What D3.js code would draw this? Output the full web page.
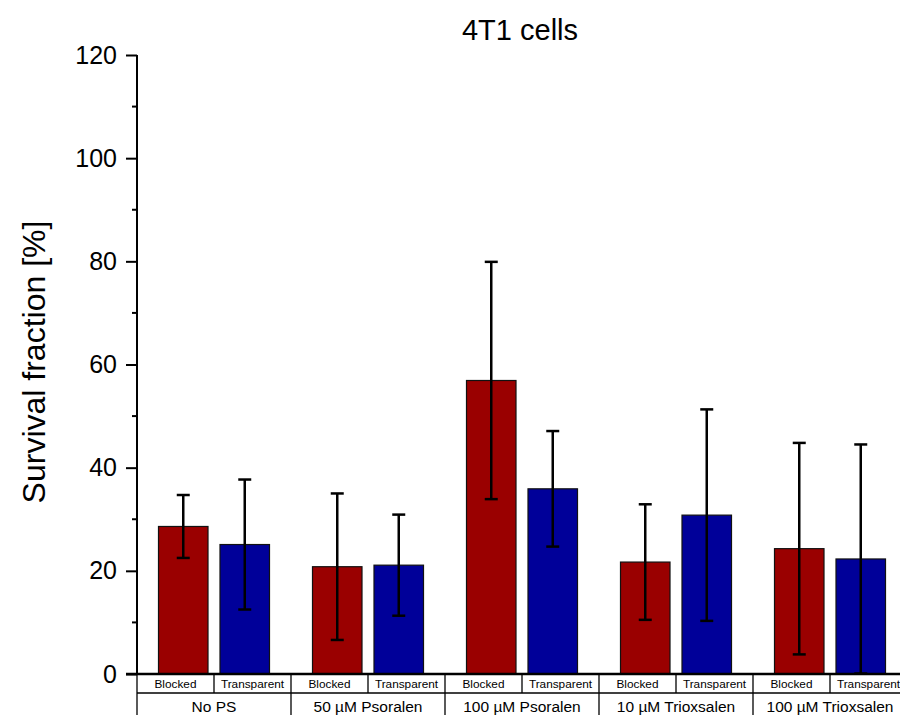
<!DOCTYPE html>
<html>
<head>
<meta charset="utf-8">
<script src="https://cdn.jsdelivr.net/npm/d3@7/dist/d3.min.js"></script>
<style>
  body { margin: 0; background: #fff; }
  text { font-family: "Liberation Sans", Arial, sans-serif; fill: #000; }
</style>
</head>
<body>
<div id="chart"></div>
<script>
const groups = ["No PS", "50 µM Psoralen", "100 µM Psoralen", "10 µM Trioxsalen", "100 µM Trioxsalen"];
const subgroups = ["Blocked", "Transparent"];
const blockedMean = [28.6, 20.8, 56.9, 21.7, 24.3];
const blockedErr = [6.1, 14.2, 23.0, 11.2, 20.5];
const transparentMean = [25.1, 21.1, 35.9, 30.8, 22.3];
const transparentErr = [12.6, 9.8, 11.2, 20.5, 22.2];
const yTicks = [0, 20, 40, 60, 80, 100, 120];

const width = 900, height = 715;
const plotLeft = 137, plotBottom = 674, plotTop = 55;
const groupW = 154;

const svg = d3.select("#chart").append("svg")
    .attr("width", width)
    .attr("height", height);

const x0 = d3.scaleBand().domain(groups).range([plotLeft, plotLeft + groupW * groups.length]);
const x1 = d3.scaleBand().domain(subgroups)
    .range([groupW / 2 - 55.5, groupW / 2 + 55.5])
    .paddingInner(0.195);
const xCell = d3.scaleBand().domain(subgroups).range([0, groupW]);
const y = d3.scaleLinear().domain([0, 120]).range([plotBottom, plotTop]);
const color = d3.scaleOrdinal().domain(subgroups).range(["#9a0000", "#000099"]);

const data = [];
groups.forEach((g, i) => {
    data.push({ group: g, sub: "Blocked", v: blockedMean[i], e: blockedErr[i] });
    data.push({ group: g, sub: "Transparent", v: transparentMean[i], e: transparentErr[i] });
});

// bars
svg.selectAll(".bar")
    .data(data)
    .enter()
    .append("rect")
    .attr("class", "bar")
    .attr("x", d => x0(d.group) + x1(d.sub))
    .attr("y", d => y(d.v))
    .attr("width", x1.bandwidth())
    .attr("height", d => y(0) - y(d.v))
    .attr("fill", d => color(d.sub))
    .attr("stroke", "#111")
    .attr("stroke-width", 1.2);

// error bars
const eb = svg.selectAll(".err")
    .data(data)
    .enter()
    .append("g")
    .attr("class", "err")
    .attr("stroke", "#000")
    .attr("stroke-width", 2.5);
const cx = d => x0(d.group) + x1(d.sub) + x1.bandwidth() / 2;
eb.append("line")
    .attr("x1", cx).attr("x2", cx)
    .attr("y1", d => y(d.v + d.e))
    .attr("y2", d => y(Math.max(0, d.v - d.e)));
eb.append("line")
    .attr("x1", d => cx(d) - 6.5).attr("x2", d => cx(d) + 6.5)
    .attr("y1", d => y(d.v + d.e)).attr("y2", d => y(d.v + d.e));
eb.append("line")
    .attr("x1", d => cx(d) - 6.5).attr("x2", d => cx(d) + 6.5)
    .attr("y1", d => y(Math.max(0, d.v - d.e))).attr("y2", d => y(Math.max(0, d.v - d.e)));

// y axis
const yAxis = svg.append("g")
    .attr("transform", `translate(${plotLeft},0)`)
    .call(d3.axisLeft(y).tickValues(yTicks).tickSize(11).tickPadding(9));
yAxis.select(".domain").attr("stroke-width", 2).attr("d", `M0,${plotTop}V${plotBottom}`);
yAxis.selectAll(".tick line").attr("stroke-width", 2);
yAxis.selectAll(".tick text").attr("font-size", 25).style("font-family", '"Liberation Sans", Arial, sans-serif');

// minor ticks
svg.append("g")
    .selectAll("line")
    .data(d3.range(10, 120, 20))
    .enter()
    .append("line")
    .attr("x1", plotLeft - 5).attr("x2", plotLeft)
    .attr("y1", d => y(d)).attr("y2", d => y(d))
    .attr("stroke", "#000").attr("stroke-width", 2);

// x axis baseline
svg.append("line")
    .attr("x1", plotLeft - 11).attr("x2", width)
    .attr("y1", plotBottom).attr("y2", plotBottom)
    .attr("stroke", "#000").attr("stroke-width", 2.5);

// category table under the axis
const rowMid = 693;
const table = svg.append("g").attr("stroke", "#000").attr("stroke-width", 1.3);
table.append("line")
    .attr("x1", plotLeft).attr("x2", width)
    .attr("y1", rowMid).attr("y2", rowMid);
table.append("line")
    .attr("x1", plotLeft).attr("x2", plotLeft)
    .attr("y1", plotBottom).attr("y2", height);
groups.forEach(g => {
    table.append("line")
        .attr("x1", x0(g) + groupW).attr("x2", x0(g) + groupW)
        .attr("y1", plotBottom).attr("y2", height);
    table.append("line")
        .attr("x1", x0(g) + xCell("Transparent")).attr("x2", x0(g) + xCell("Transparent"))
        .attr("y1", plotBottom).attr("y2", rowMid);
});

svg.append("g")
    .selectAll("text")
    .data(data)
    .enter()
    .append("text")
    .attr("x", d => x0(d.group) + xCell(d.sub) + xCell.bandwidth() / 2)
    .attr("y", 688)
    .attr("text-anchor", "middle")
    .attr("font-size", 11.8)
    .text(d => d.sub);

svg.append("g")
    .selectAll("text")
    .data(groups)
    .enter()
    .append("text")
    .attr("x", d => x0(d) + groupW / 2)
    .attr("y", 712)
    .attr("text-anchor", "middle")
    .attr("font-size", 15.5)
    .text(d => d);

// title
svg.append("text")
    .attr("x", 520)
    .attr("y", 40)
    .attr("text-anchor", "middle")
    .attr("font-size", 29)
    .text("4T1 cells");

// y label
svg.append("text")
    .attr("transform", `translate(45,362) rotate(-90)`)
    .attr("text-anchor", "middle")
    .attr("font-size", 32)
    .text("Survival fraction [%]");
</script>
</body>
</html>
